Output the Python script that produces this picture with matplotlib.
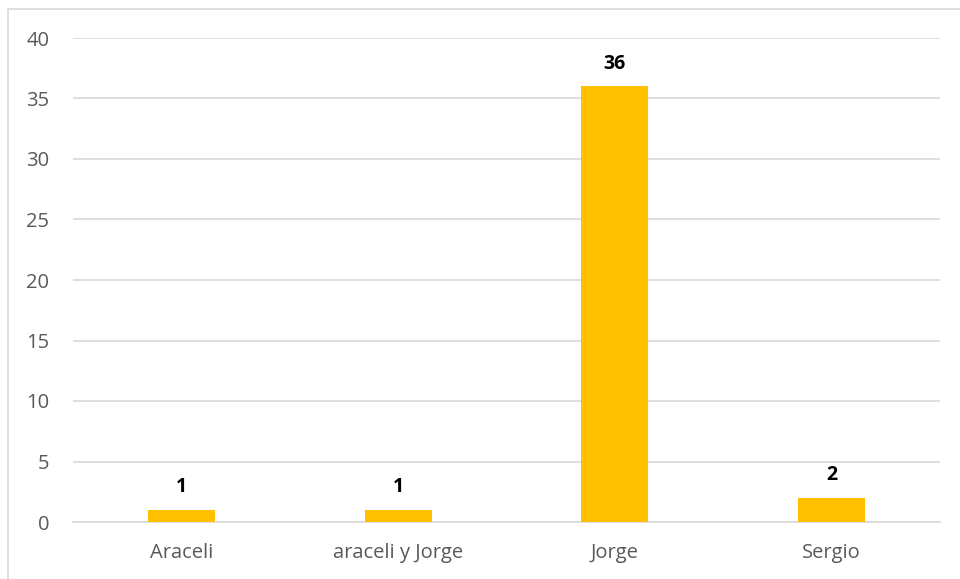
import matplotlib
matplotlib.use("Agg")
import matplotlib.pyplot as plt
from matplotlib.patches import Rectangle

categories = ["Araceli", "araceli y Jorge", "Jorge", "Sergio"]
values = [1, 1, 36, 2]
yticks = [0, 5, 10, 15, 20, 25, 30, 35, 40]

plt.rcParams['font.family'] = ['Open Sans', 'DejaVu Sans']

fig = plt.figure(figsize=(9.6, 5.79), dpi=100)
fig.patch.set_facecolor("white")

# chart frame
fig.patches.append(Rectangle((8 / 960, -0.05), 1.2, 1 - 9 / 579 + 0.05,
                             transform=fig.transFigure, fill=False,
                             edgecolor="#d9d9d9", linewidth=1.2, zorder=0))

ax = fig.add_axes([73 / 960, 57 / 579, 867 / 960, 484 / 579])
x = range(len(categories))
bars = ax.bar(x, values, width=0.31, color="#FFC000", zorder=3)

ax.set_ylim(0, 40)
ax.set_xlim(-0.5, len(categories) - 0.5)
ax.set_yticks(yticks)
ax.set_xticks(list(x))
ax.set_xticklabels(categories)
ax.grid(axis="y", color="#d9d9d9", linewidth=1.2, zorder=0)
ax.set_axisbelow(True)
for s in ["top", "right", "left"]:
    ax.spines[s].set_visible(False)
ax.spines["bottom"].set_color("#d9d9d9")
ax.spines["bottom"].set_linewidth(1.2)
ax.tick_params(axis="both", length=0, labelsize=14.5, colors="#595959")
ax.tick_params(axis="y", pad=17)
ax.tick_params(axis="x", pad=15)

for xi, v in zip(x, values):
    ax.annotate(str(v), (xi, v), xytext=(0, 9), textcoords="offset points",
                ha="center", va="bottom", fontsize=14, fontweight="bold",
                color="black")

fig.savefig("out.png", dpi=100)
